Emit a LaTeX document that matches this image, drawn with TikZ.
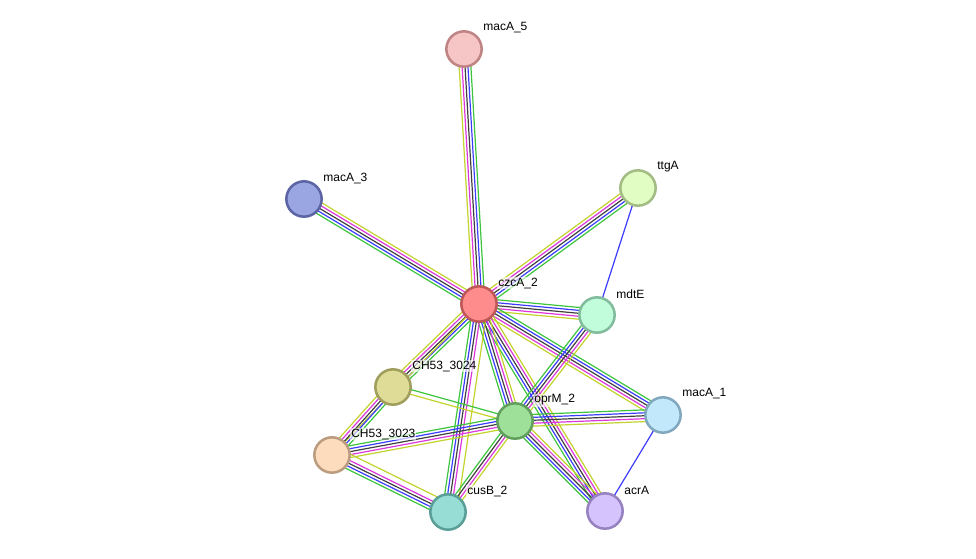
\documentclass[tikz,border=0pt]{standalone}
\usepackage{fontspec}
\setmainfont{Liberation Sans}
\usetikzlibrary{calc}
\pgfdeclarelayer{background}
\pgfsetlayers{background,main}

\definecolor{egreen}{HTML}{3CC43C}
\definecolor{eblue}{HTML}{3C3CFF}
\definecolor{eblack}{HTML}{404040}
\definecolor{emag}{HTML}{DB37DB}
\definecolor{eyel}{HTML}{C2D32B}

% evidence lines between two proteins, offset/colour pairs
\newcommand{\bundle}[3]{%
  \foreach \off/\clr in {#3}
    \draw[evid,\clr] ($(#1.center)!\off*2.2pt!90:(#2.center)$) -- ($(#2.center)!\off*2.2pt!-90:(#1.center)$);}
\newcommand{\fullbundle}[2]{\bundle{#1}{#2}{-2/egreen,-1/eblue,0/eblack,1/emag,2/eyel}}

\begin{document}
\begin{tikzpicture}[
    x=0.75pt, y=-0.75pt,
    prot/.style={circle, draw, line width=1.9pt, minimum size=26.5pt, inner sep=0pt},
    lbl/.style={anchor=west, font=\fontsize{9}{10}\selectfont, inner sep=0.8pt, fill=white, fill opacity=0.6, text opacity=1},
    evid/.style={line width=0.9pt}
]
    \useasboundingbox (0,0) rectangle (976,558);

    \node[prot, fill={rgb,255:red,255;green,140;blue,140}, draw={rgb,255:red,190;green,88;blue,88}] (czcA) at (479,304) {};
    \node[prot, fill={rgb,255:red,246;green,198;blue,198}, draw={rgb,255:red,192;green,132;blue,132}] (macA5) at (464,49) {};
    \node[prot, fill={rgb,255:red,154;green,166;blue,226}, draw={rgb,255:red,92;green,100;blue,166}] (macA3) at (304,199) {};
    \node[prot, fill={rgb,255:red,226;green,253;blue,196}, draw={rgb,255:red,162;green,188;blue,132}] (ttgA) at (638,188) {};
    \node[prot, fill={rgb,255:red,193;green,253;blue,219}, draw={rgb,255:red,130;green,188;blue,156}] (mdtE) at (597,315) {};
    \node[prot, fill={rgb,255:red,222;green,220;blue,150}, draw={rgb,255:red,160;green,158;blue,92}] (ch3024) at (393,387) {};
    \node[prot, fill={rgb,255:red,158;green,224;blue,154}, draw={rgb,255:red,96;green,159;blue,92}] (oprM) at (515,421) {};
    \node[prot, fill={rgb,255:red,194;green,232;blue,251}, draw={rgb,255:red,130;green,168;blue,190}] (macA1) at (663,415) {};
    \node[prot, fill={rgb,255:red,253;green,220;blue,190}, draw={rgb,255:red,188;green,156;blue,128}] (ch3023) at (332,455) {};
    \node[prot, fill={rgb,255:red,151;green,220;blue,213}, draw={rgb,255:red,90;green,158;blue,152}] (cusB) at (448,512) {};
    \node[prot, fill={rgb,255:red,212;green,195;blue,252}, draw={rgb,255:red,150;green,130;blue,192}] (acrA) at (605,511) {};

    \node[lbl] (lczcA) at ($(czcA)+(18,-21)$) {czcA\_2};
    \node[lbl] (lmacA5) at ($(macA5)+(18,-21)$) {macA\_5};
    \node[lbl] (lmacA3) at ($(macA3)+(18,-21)$) {macA\_3};
    \node[lbl] (lttgA) at ($(ttgA)+(18,-21)$) {ttgA};
    \node[lbl] (lmdtE) at ($(mdtE)+(18,-21)$) {mdtE};
    \node[lbl] (lch3024) at ($(ch3024)+(18,-21)$) {CH53\_3024};
    \node[lbl] (loprM) at ($(oprM)+(18,-21)$) {oprM\_2};
    \node[lbl] (lmacA1) at ($(macA1)+(18,-21)$) {macA\_1};
    \node[lbl] (lch3023) at ($(ch3023)+(18,-21)$) {CH53\_3023};
    \node[lbl] (lcusB) at ($(cusB)+(18,-21)$) {cusB\_2};
    \node[lbl] (lacrA) at ($(acrA)+(18,-21)$) {acrA};

    \begin{pgfonlayer}{background}
    \fullbundle{czcA}{macA5} \fullbundle{macA3}{czcA} \fullbundle{czcA}{ttgA}
    \fullbundle{mdtE}{czcA} \fullbundle{macA1}{czcA} \fullbundle{czcA}{acrA}
    \fullbundle{czcA}{oprM} \fullbundle{ch3024}{czcA}
    \bundle{czcA}{cusB}{-2/egreen,-1/eblue,0/eblack,1/emag,3/eyel}
    \bundle{ch3023}{czcA}{0/eyel}
    \fullbundle{ch3023}{ch3024}
    \bundle{oprM}{ch3024}{-0.8/egreen,0.8/eyel}
    \fullbundle{oprM}{ch3023}
    \bundle{oprM}{cusB}{-1.5/egreen,-0.5/eblack,0.5/emag,1.5/eyel}
    \fullbundle{mdtE}{oprM} \fullbundle{macA1}{oprM} \fullbundle{oprM}{acrA}
    \bundle{ch3023}{cusB}{-2/egreen,-1/eblue,0/eblack,1/emag,3/eyel}
    \bundle{ttgA}{mdtE}{0/eblue} \bundle{macA1}{acrA}{0/eblue}
    \end{pgfonlayer}
\end{tikzpicture}
\end{document}
